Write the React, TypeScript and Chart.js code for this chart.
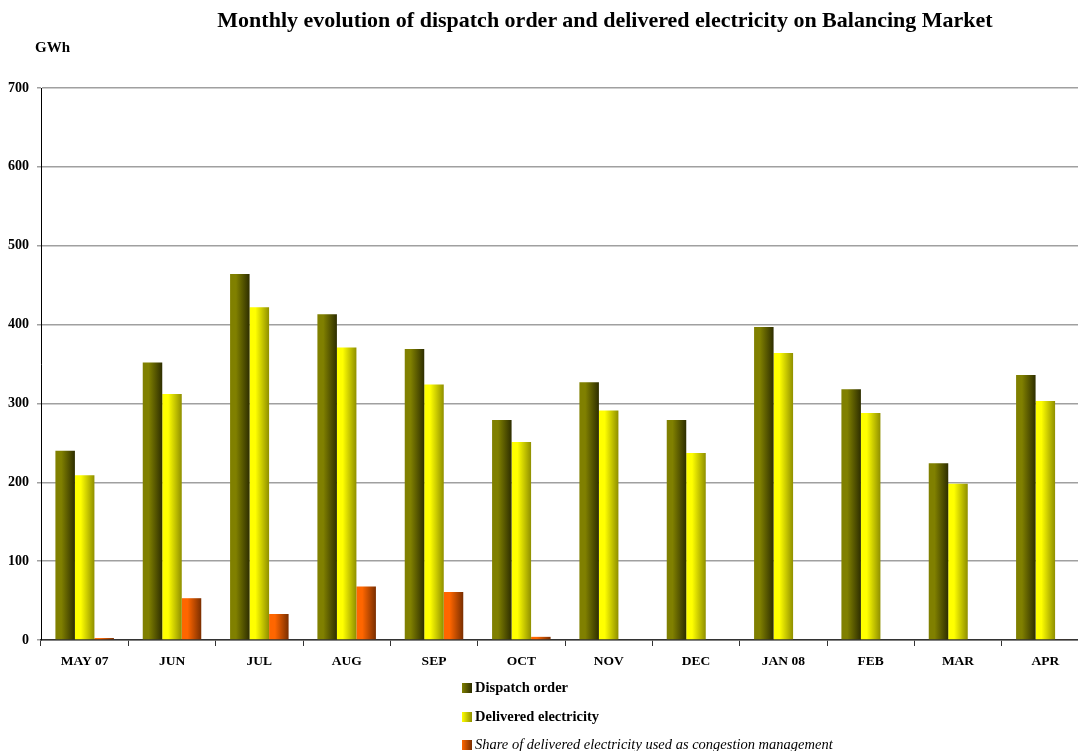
import React, { useEffect, useRef } from "react";
import { Chart, registerables } from "chart.js";

Chart.register(...registerables);

const categories = ["MAY 07", "JUN", "JUL", "AUG", "SEP", "OCT", "NOV", "DEC", "JAN 08", "FEB", "MAR", "APR"];
const dispatchOrder = [240, 352, 464, 413, 369, 279, 327, 279, 397, 318, 224, 336];
const deliveredElectricity = [209, 312, 422, 371, 324, 251, 291, 237, 364, 288, 198, 303];
const congestionShare = [2.5, 53, 33, 68, 61, 4, 0, 0, 0, 0, 0, 1];
const yTicks = [0, 100, 200, 300, 400, 500, 600, 700];

const gradStops: [string, string][] = [
  ["#808000", "#2e2e00"],
  ["#ffff00", "#8f8f00"],
  ["#ff6600", "#7a2e00"],
];

const SERIF = "'Liberation Serif', 'Times New Roman', serif";
const CAT_PCT = 0.67;

export default function App() {
  const canvasRef = useRef<HTMLCanvasElement | null>(null);

  useEffect(() => {
    const canvas = canvasRef.current;
    if (!canvas) return;

    const makeBg = (dsIndex: number) => (ctx: any) => {
      const chart = ctx.chart;
      const xs = chart.scales?.x;
      if (!xs || ctx.dataIndex === undefined || !chart.chartArea) return gradStops[dsIndex][0];
      const center = xs.getPixelForValue(ctx.dataIndex);
      const catW = (chart.chartArea.right - chart.chartArea.left) / categories.length;
      const w = (catW * CAT_PCT) / 3;
      const c = center + (dsIndex - 1) * w;
      const g = chart.ctx.createLinearGradient(c - w / 2, 0, c + w / 2, 0);
      g.addColorStop(0, gradStops[dsIndex][0]);
      g.addColorStop(0.3, gradStops[dsIndex][0]);
      g.addColorStop(1, gradStops[dsIndex][1]);
      return g;
    };

    const chart = new Chart(canvas, {
      type: "bar",
      data: {
        labels: categories,
        datasets: [
          { label: "Dispatch order", data: dispatchOrder, backgroundColor: makeBg(0) as any },
          { label: "Delivered electricity", data: deliveredElectricity, backgroundColor: makeBg(1) as any },
          { label: "Share of delivered electricity used as congestion management", data: congestionShare, backgroundColor: makeBg(2) as any },
        ],
      },
      options: {
        animation: false,
        responsive: false,
        maintainAspectRatio: false,
        layout: { padding: { top: 88, left: 0, right: 0, bottom: 81 } },
        datasets: { bar: { categoryPercentage: CAT_PCT, barPercentage: 1, borderWidth: 0 } },
        plugins: {
          legend: { display: false },
          title: { display: false },
          tooltip: { enabled: false },
        },
        scales: {
          x: {
            offset: true,
            grid: {
              offset: true,
              drawOnChartArea: false,
              drawTicks: true,
              tickLength: 6,
              color: "#333",
            },
            border: { display: true, color: "#333", width: 1.5 },
            ticks: {
              color: "#000",
              font: { family: SERIF, size: 13.5, weight: "bold" },
              padding: 7,
              maxRotation: 0,
              autoSkip: false,
            },
            afterFit: (s: any) => {
              s.height = 30;
            },
          },
          y: {
            min: 0,
            max: 700,
            afterBuildTicks: (s: any) => {
              s.ticks = yTicks.map((v) => ({ value: v }));
            },
            grid: {
              color: "#a0a0a0",
              lineWidth: 1.5,
              tickLength: 4,
              drawTicks: true,
            },
            border: { display: true, color: "#000", width: 1 },
            ticks: {
              color: "#000",
              font: { family: SERIF, size: 14, weight: "bold" },
              padding: 8,
            },
            afterFit: (s: any) => {
              s.width = 41;
            },
          },
        },
      },
    });

    return () => chart.destroy();
  }, []);

  const legendItems = [
    { label: "Dispatch order", italic: false, top: 679, stops: gradStops[0] },
    { label: "Delivered electricity", italic: false, top: 708, stops: gradStops[1] },
    { label: "Share of delivered electricity used as congestion management", italic: true, top: 736, stops: gradStops[2] },
  ];

  return (
    <div style={{ position: "fixed", left: 0, top: 0, width: 1078, height: 751, overflow: "hidden", background: "#fff", fontFamily: SERIF }}>
      <canvas ref={canvasRef} width={1089} height={751} style={{ position: "absolute", left: 0, top: 0, width: 1089, height: 751 }} />
      <div style={{ position: "absolute", left: 0, width: 1210, top: 7, textAlign: "center", fontSize: 22, fontWeight: "bold", color: "#000", whiteSpace: "nowrap" }}>
        Monthly evolution of dispatch order and delivered electricity on Balancing Market
      </div>
      <div style={{ position: "absolute", left: 35, top: 39, fontSize: 15, fontWeight: "bold", color: "#000" }}>GWh</div>
      {legendItems.map((it) => (
        <div key={it.label} style={{ position: "absolute", left: 462, top: it.top, display: "flex", alignItems: "center", whiteSpace: "nowrap" }}>
          <span style={{ display: "inline-block", width: 10, height: 10, background: `linear-gradient(to right, ${it.stops[0]}, ${it.stops[1]})`, marginRight: 3 }} />
          <span style={{ fontSize: 14.5, fontWeight: it.italic ? "normal" : "bold", fontStyle: it.italic ? "italic" : "normal", color: "#000" }}>{it.label}</span>
        </div>
      ))}
    </div>
  );
}
